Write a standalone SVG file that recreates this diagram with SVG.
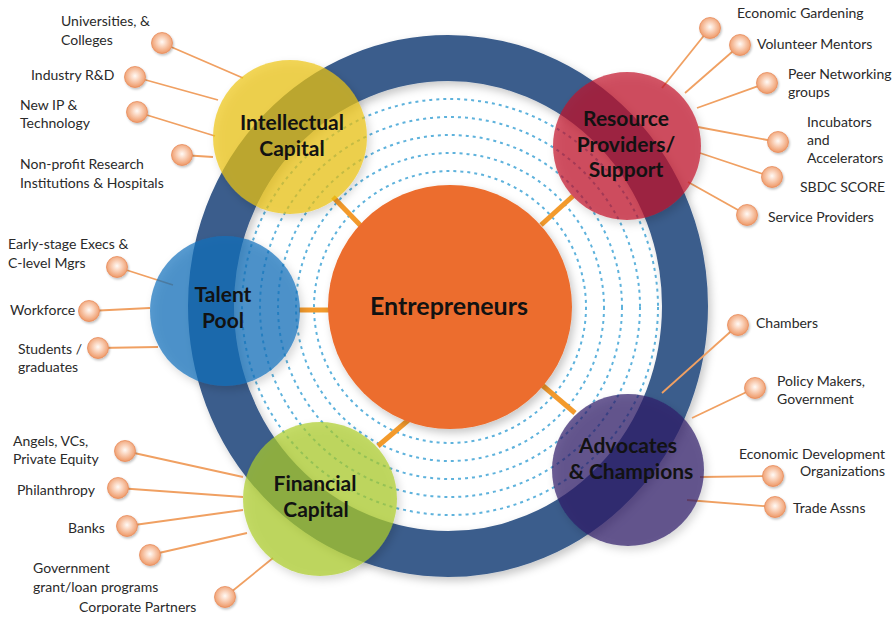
<svg xmlns="http://www.w3.org/2000/svg" width="896" height="617" viewBox="0 0 896 617">
  <defs>
    <style>
      .lbl{font-family:Lato,"Liberation Sans",sans-serif;font-size:14px;fill:#2a2a2a}
      .ttl{font-family:Lato,"Liberation Sans",sans-serif;font-weight:bold;font-size:21px;fill:#121212;text-anchor:middle}
      .leaf{stroke:#f0a062;stroke-width:1.8;fill:none}
      .spoke{stroke:#f39a2c;stroke-width:5}
      .dash{fill:none;stroke:#5eb2dc;stroke-width:2;stroke-dasharray:3 4}
      .bul{fill:url(#bulGrad);stroke:#e98d5c;stroke-width:0.8;filter:url(#bulShadow)}
      .sat{fill-opacity:0.7;filter:url(#softShadow)}
    </style>
    <radialGradient id="bulGrad" cx="0.5" cy="0.45" r="0.55">
      <stop offset="0" stop-color="#fffaf6"/>
      <stop offset="0.35" stop-color="#fbd8c3"/>
      <stop offset="1" stop-color="#ee9866"/>
    </radialGradient>
    <filter id="softShadow" x="-20%" y="-20%" width="145%" height="145%">
      <feDropShadow dx="3" dy="4" stdDeviation="4" flood-color="#000" flood-opacity="0.22"/>
    </filter>
    <filter id="bulShadow" x="-40%" y="-40%" width="190%" height="190%">
      <feDropShadow dx="1" dy="1.5" stdDeviation="1.2" flood-color="#000" flood-opacity="0.25"/>
    </filter>
  </defs>

  <rect width="896" height="617" fill="#ffffff"/>

  <!-- dotted orbits inside the ring -->
  <g id="orbits">
    <circle class="dash" cx="450" cy="307" r="136"/>
    <circle class="dash" cx="450" cy="307" r="154"/>
    <circle class="dash" cx="450" cy="307" r="172"/>
    <circle class="dash" cx="450" cy="307" r="190"/>
    <circle class="dash" cx="450" cy="307" r="208"/>
  </g>

  <!-- outer ring -->
  <g id="ring">
    <ellipse cx="448" cy="306" rx="237" ry="248" fill="none" stroke="#3b5d8c" stroke-width="46" filter="url(#softShadow)"/>
  </g>

  <g id="connectors">
    <!-- spokes from the hub -->
    <line class="spoke" x1="333" y1="197" x2="361" y2="226"/>
    <line class="spoke" x1="541" y1="225" x2="573" y2="196"/>
    <line class="spoke" x1="299" y1="310" x2="330" y2="310"/>
    <line class="spoke" x1="378" y1="446" x2="412" y2="417"/>
    <line class="spoke" x1="542" y1="385" x2="575" y2="413"/>
    <!-- intellectual capital -->
    <line class="leaf" x1="162" y1="43" x2="243" y2="78"/>
    <line class="leaf" x1="135" y1="77" x2="218" y2="100"/>
    <line class="leaf" x1="137" y1="112" x2="215" y2="136"/>
    <line class="leaf" x1="182" y1="155" x2="213" y2="157"/>
    <!-- resource providers -->
    <line class="leaf" x1="710" y1="28" x2="662" y2="88"/>
    <line class="leaf" x1="740" y1="45" x2="685" y2="93"/>
    <line class="leaf" x1="767" y1="83" x2="697" y2="108"/>
    <line class="leaf" x1="778" y1="142" x2="698" y2="127"/>
    <line class="leaf" x1="772" y1="177" x2="700" y2="153"/>
    <line class="leaf" x1="747" y1="215" x2="688" y2="182"/>
    <!-- talent pool -->
    <line class="leaf" x1="117" y1="267" x2="173" y2="285"/>
    <line class="leaf" x1="89" y1="311" x2="150" y2="308"/>
    <line class="leaf" x1="98" y1="348" x2="158" y2="347"/>
    <!-- financial capital -->
    <line class="leaf" x1="125" y1="451" x2="243" y2="477"/>
    <line class="leaf" x1="118" y1="488" x2="243" y2="497"/>
    <line class="leaf" x1="127" y1="526" x2="243" y2="510"/>
    <line class="leaf" x1="150" y1="555" x2="247" y2="533"/>
    <line class="leaf" x1="225" y1="597" x2="273" y2="558"/>
    <!-- advocates -->
    <line class="leaf" x1="738" y1="325" x2="662" y2="393"/>
    <line class="leaf" x1="755" y1="388" x2="692" y2="418"/>
    <line class="leaf" x1="773" y1="476" x2="700" y2="477"/>
    <line class="leaf" x1="775" y1="507" x2="687" y2="500"/>
  </g>

  <g id="entrepreneurs">
    <circle cx="450" cy="307" r="122" fill="#ec6d2d" filter="url(#softShadow)"/>
    <text class="ttl" x="449" y="315" style="font-size:25px">Entrepreneurs</text>
  </g>

  <g id="intellectual-capital">
    <circle class="sat" cx="290" cy="137" r="77" fill="#ecc416"/>
    <text class="ttl" x="292" y="130">Intellectual</text>
    <text class="ttl" x="292" y="156">Capital</text>
  </g>

  <g id="resource-providers">
    <circle class="sat" cx="627" cy="146" r="74" fill="#c2152a"/>
    <text class="ttl" x="626" y="126">Resource</text>
    <text class="ttl" x="626" y="152">Providers/</text>
    <text class="ttl" x="626" y="177">Support</text>
  </g>

  <g id="talent-pool">
    <circle class="sat" cx="225" cy="311" r="75" fill="#1570bc"/>
    <text class="ttl" x="223" y="302">Talent</text>
    <text class="ttl" x="223" y="328">Pool</text>
  </g>

  <g id="financial-capital">
    <circle class="sat" cx="320" cy="499" r="77" fill="#accd2a"/>
    <text class="ttl" x="315" y="491">Financial</text>
    <text class="ttl" x="316" y="517">Capital</text>
  </g>

  <g id="advocates-champions">
    <circle class="sat" cx="628" cy="470" r="76" fill="#2e2069"/>
    <text class="ttl" x="628" y="453">Advocates</text>
    <text class="ttl" x="631" y="479">&amp; Champions</text>
  </g>

  <!-- leaf items -->
  <g id="universities">
    <circle class="bul" cx="162" cy="43" r="10.5"/>
    <text class="lbl" x="61" y="26">Universities, &amp;</text>
    <text class="lbl" x="61" y="45">Colleges</text>
  </g>
  <g id="industry-rd">
    <circle class="bul" cx="135" cy="77" r="10.5"/>
    <text class="lbl" x="31" y="80">Industry R&amp;D</text>
  </g>
  <g id="new-ip">
    <circle class="bul" cx="137" cy="112" r="10.5"/>
    <text class="lbl" x="20" y="110">New IP &amp;</text>
    <text class="lbl" x="20" y="128">Technology</text>
  </g>
  <g id="non-profit">
    <circle class="bul" cx="182" cy="155" r="10.5"/>
    <text class="lbl" x="20" y="169">Non-profit Research</text>
    <text class="lbl" x="20" y="188">Institutions &amp; Hospitals</text>
  </g>

  <g id="economic-gardening">
    <circle class="bul" cx="710" cy="28" r="10.5"/>
    <text class="lbl" x="737" y="18">Economic Gardening</text>
  </g>
  <g id="volunteer-mentors">
    <circle class="bul" cx="740" cy="45" r="10.5"/>
    <text class="lbl" x="757" y="49">Volunteer Mentors</text>
  </g>
  <g id="peer-networking">
    <circle class="bul" cx="767" cy="83" r="10.5"/>
    <text class="lbl" x="788" y="79">Peer Networking</text>
    <text class="lbl" x="788" y="97">groups</text>
  </g>
  <g id="incubators">
    <circle class="bul" cx="778" cy="142" r="10.5"/>
    <text class="lbl" x="807" y="127">Incubators</text>
    <text class="lbl" x="807" y="145">and</text>
    <text class="lbl" x="807" y="163">Accelerators</text>
  </g>
  <g id="sbdc-score">
    <circle class="bul" cx="772" cy="177" r="10.5"/>
    <text class="lbl" x="800" y="192">SBDC SCORE</text>
  </g>
  <g id="service-providers">
    <circle class="bul" cx="747" cy="215" r="10.5"/>
    <text class="lbl" x="768" y="222">Service Providers</text>
  </g>

  <g id="early-stage-execs">
    <circle class="bul" cx="117" cy="267" r="10.5"/>
    <text class="lbl" x="8" y="249">Early-stage Execs &amp;</text>
    <text class="lbl" x="8" y="268">C-level Mgrs</text>
  </g>
  <g id="workforce">
    <circle class="bul" cx="89" cy="311" r="10.5"/>
    <text class="lbl" x="10" y="315">Workforce</text>
  </g>
  <g id="students">
    <circle class="bul" cx="98" cy="348" r="10.5"/>
    <text class="lbl" x="18" y="354">Students /</text>
    <text class="lbl" x="18" y="372">graduates</text>
  </g>

  <g id="angels-vcs">
    <circle class="bul" cx="125" cy="451" r="10.5"/>
    <text class="lbl" x="13" y="446">Angels, VCs,</text>
    <text class="lbl" x="13" y="464">Private Equity</text>
  </g>
  <g id="philanthropy">
    <circle class="bul" cx="118" cy="488" r="10.5"/>
    <text class="lbl" x="17" y="495">Philanthropy</text>
  </g>
  <g id="banks">
    <circle class="bul" cx="127" cy="526" r="10.5"/>
    <text class="lbl" x="68" y="533">Banks</text>
  </g>
  <g id="government-programs">
    <circle class="bul" cx="150" cy="555" r="10.5"/>
    <text class="lbl" x="33" y="573">Government</text>
    <text class="lbl" x="33" y="592">grant/loan programs</text>
  </g>
  <g id="corporate-partners">
    <circle class="bul" cx="225" cy="597" r="10.5"/>
    <text class="lbl" x="79" y="612">Corporate Partners</text>
  </g>

  <g id="chambers">
    <circle class="bul" cx="738" cy="325" r="10.5"/>
    <text class="lbl" x="756" y="328">Chambers</text>
  </g>
  <g id="policy-makers">
    <circle class="bul" cx="755" cy="388" r="10.5"/>
    <text class="lbl" x="777" y="386">Policy Makers,</text>
    <text class="lbl" x="777" y="404">Government</text>
  </g>
  <g id="economic-development">
    <circle class="bul" cx="773" cy="476" r="10.5"/>
    <text class="lbl" x="885" y="459" text-anchor="end">Economic Development</text>
    <text class="lbl" x="885" y="476" text-anchor="end">Organizations</text>
  </g>
  <g id="trade-assns">
    <circle class="bul" cx="775" cy="507" r="10.5"/>
    <text class="lbl" x="793" y="513">Trade Assns</text>
  </g>
</svg>
